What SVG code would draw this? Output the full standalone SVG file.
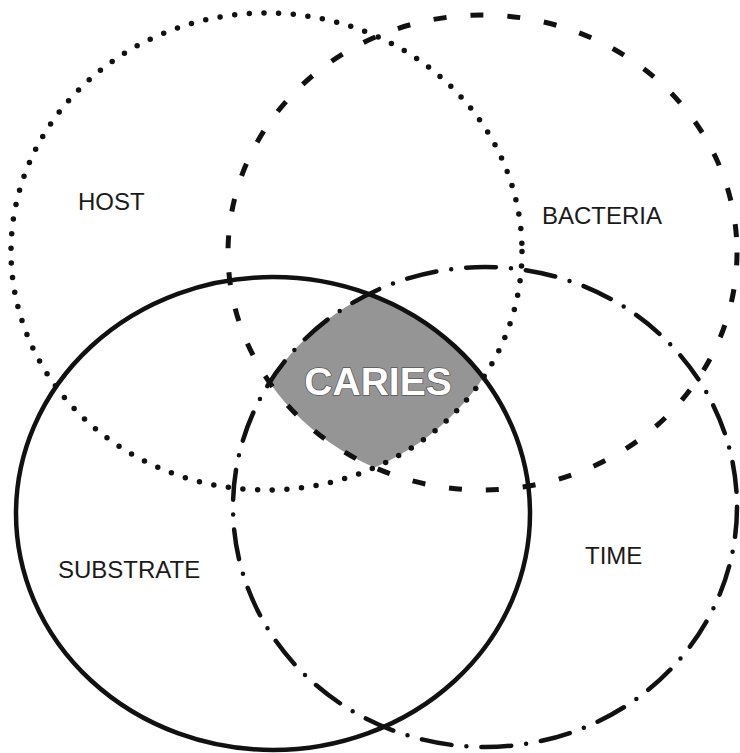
<svg xmlns="http://www.w3.org/2000/svg" width="740" height="753" viewBox="0 0 740 753">
<style>
.ring{fill:none;stroke:#111}
.host{stroke-width:5.5;stroke-dasharray:0 14.7;stroke-linecap:round}
.bact{stroke-width:5;stroke-dasharray:13 24}
.subs{stroke-width:4.5}
.time{stroke-width:4.5;stroke-dasharray:30 15 0 15;stroke-linecap:round}
.lbl{font-family:"Liberation Sans",Arial,sans-serif;font-size:24px;fill:#1a1a1a}
.big{font-family:"Liberation Sans",Arial,sans-serif;font-size:39px;font-weight:bold;fill:#fff;stroke:#555;stroke-width:1.5;paint-order:stroke;text-anchor:middle}
</style>
<defs>
<clipPath id="cB"><ellipse cx="482.5" cy="252.5" rx="254.5" ry="237.5"/></clipPath>
<clipPath id="cS"><ellipse cx="273" cy="513.5" rx="257" ry="236.5"/></clipPath>
<clipPath id="cT"><ellipse cx="485" cy="507" rx="252" ry="240"/></clipPath>
</defs>
<rect width="740" height="753" fill="#fff"/>
<g id="caries-region">
<g clip-path="url(#cB)"><g clip-path="url(#cS)"><g clip-path="url(#cT)">
<ellipse cx="266.5" cy="251.5" rx="255.5" ry="238.5" fill="#959595"/>
</g></g></g>
</g>
<g id="host">
<ellipse class="ring host" cx="266.5" cy="251.5" rx="255.5" ry="238.5"/>
<text class="lbl" x="78" y="210">HOST</text>
</g>
<g id="bacteria">
<ellipse class="ring bact" cx="482.5" cy="252.5" rx="254.5" ry="237.5"/>
<text class="lbl" x="542" y="224">BACTERIA</text>
</g>
<g id="substrate">
<ellipse class="ring subs" cx="273" cy="513.5" rx="257" ry="236.5"/>
<text class="lbl" x="58" y="578">SUBSTRATE</text>
</g>
<g id="time">
<ellipse class="ring time" cx="485" cy="507" rx="252" ry="240"/>
<text class="lbl" x="585" y="564">TIME</text>
</g>
<g id="caries">
<text class="big" x="378" y="395">CARIES</text>
</g>
<g id="connectors"/>
</svg>
